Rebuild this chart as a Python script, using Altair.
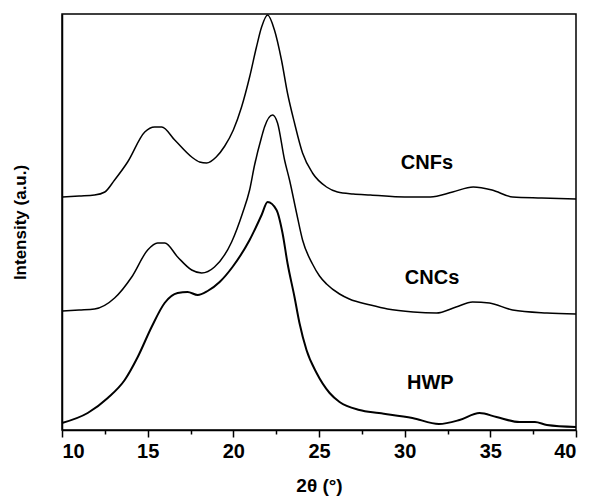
import altair as alt
import pandas as pd

# 2θ positions and intensities (a.u., arbitrary offset units)
cnf_x = [10.0, 11.0, 11.9, 12.5, 13.07, 13.83, 14.83, 15.41, 15.82, 16.58, 17.57, 18.03, 18.44,
         19.0, 19.5, 20.0, 20.48, 20.95, 21.35, 21.65, 22.0, 22.4, 22.81, 23.16, 23.57, 24.04,
         24.62, 25.44, 26.08, 27.0, 28.0, 30.0, 31.5, 32.8, 34.0, 35.1, 36.3, 38.0, 40.0]
cnf_y = [232, 233, 234, 237, 249, 267, 297, 302, 302, 289, 272, 267, 266,
         272, 283, 299, 322, 352, 382, 402, 414, 399, 369, 336, 306, 276,
         256, 242, 237, 235, 234, 232, 232, 237, 242, 239, 232, 231, 230]

cnc_x = [10.0, 11.0, 11.9, 13.07, 14.07, 15.0, 15.58, 16.0, 16.75, 17.57, 18.15, 18.9, 19.9,
         20.54, 20.95, 21.24, 21.65, 21.82, 22.29, 22.58, 22.99, 23.28, 23.69, 24.04, 24.62,
         25.03, 25.44, 26.2, 26.77, 28.0, 29.0, 30.5, 31.85, 33.0, 33.96, 34.95, 36.3, 38.3, 40.0]
cnc_y = [118, 119, 120, 131, 152, 179, 186, 186, 172, 159, 156, 162, 187,
         216, 239, 264, 292, 302, 314, 306, 269, 249, 216, 189, 165,
         153, 145, 135, 130, 124, 120, 117, 116, 122, 127, 126, 119, 116, 115]

hwp_x = [10.0, 11.5, 12.67, 13.66, 14.42, 15.23, 15.99, 16.75, 17.33, 17.92, 18.5, 19.2,
         19.95, 20.95, 21.65, 22.0, 22.52, 22.87, 23.16, 23.57, 23.86, 24.27, 24.86, 25.62,
         26.2, 27.36, 28.5, 30.45, 32.0, 33.2, 34.37, 35.36, 36.7, 37.6, 38.3, 40.0]
hwp_y = [6, 16, 31, 49, 72, 102, 126, 136, 137, 134, 138, 147,
         162, 189, 214, 227, 219, 196, 166, 132, 106, 79, 56, 36,
         27, 19, 16, 11, 5, 9, 16, 12, 7, 7, 4, 2]

label_names = ["CNFs", "CNCs", "HWP"]
label_x = [31.3, 31.6, 31.5]
label_y = [266, 151, 46]

x_ticks = [10, 12.5, 15, 17.5, 20, 22.5, 25, 27.5, 30, 32.5, 35, 37.5, 40]

rows = []
for name, xs, ys in [("CNFs", cnf_x, cnf_y), ("CNCs", cnc_x, cnc_y), ("HWP", hwp_x, hwp_y)]:
    for a, b in zip(xs, ys):
        rows.append({"series": name, "theta": a, "intensity": b})
df = pd.DataFrame(rows)
labels = pd.DataFrame({"name": label_names, "theta": label_x, "intensity": label_y})

FONT = "Liberation Sans"

xscale = alt.Scale(domain=[10, 40], nice=False, zero=False)
yscale = alt.Scale(domain=[-1, 415], nice=False, zero=False)

lines = alt.Chart(df).mark_line(color="black", interpolate="monotone").encode(
    x=alt.X("theta:Q", scale=xscale,
            axis=alt.Axis(title="2θ (°)", values=x_ticks,
                          labelExpr="datum.value % 5 == 0 ? datum.label : ''",
                          tickSize=alt.condition("datum.value % 5 == 0", alt.value(7), alt.value(4)),
                          tickColor="black", tickWidth=1.5,
                          domainColor="black", domainWidth=1.5,
                          labelFont=FONT, labelFontSize=20, labelFontWeight="bold",
                          labelColor="black", labelPadding=4,
                          titleFont=FONT, titleFontSize=19, titleFontWeight="bold",
                          titleColor="black", titlePadding=15, grid=False)),
    y=alt.Y("intensity:Q", scale=yscale,
            axis=alt.Axis(title="Intensity (a.u.)", ticks=False, labels=False,
                          domainColor="black", domainWidth=1.5, grid=False,
                          titleFont=FONT, titleFontSize=17, titleFontWeight="bold",
                          titleColor="black", titlePadding=33)),
    detail="series:N",
    strokeWidth=alt.condition(alt.datum.series == "HWP", alt.value(2.0), alt.value(1.5)),
)

text = alt.Chart(labels).mark_text(font=FONT, fontSize=20, fontWeight="bold", color="black").encode(
    x=alt.X("theta:Q", scale=xscale),
    y=alt.Y("intensity:Q", scale=yscale),
    text="name:N",
)

chart = alt.layer(lines, text).properties(
    width=514, height=416,
    autosize=alt.AutoSizeParams(type="none"),
    padding={"left": 54, "top": 6, "right": 7, "bottom": 74},
    background="white",
).configure_view(stroke="black", strokeWidth=1.5)

chart.save("out.html", embed_options={"renderer": "svg", "actions": False})
